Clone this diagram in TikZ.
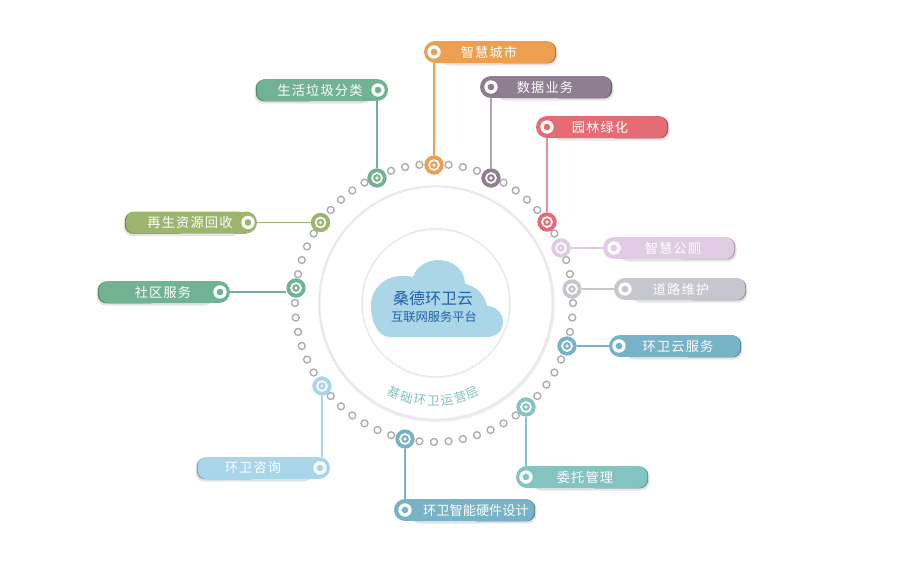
\documentclass[tikz,border=0pt]{standalone}
\usepackage{fontspec}
\setmainfont{Noto Sans CJK SC}
\newfontfamily\spaced[LetterSpace=9]{Noto Sans CJK SC}
\usetikzlibrary{calc}
\definecolor{cOrange}{HTML}{EB9F4F}
\definecolor{cPurple}{HTML}{8F7D92}
\definecolor{cRed}{HTML}{E56B74}
\definecolor{cLilac}{HTML}{DFCBE2}
\definecolor{cGrey}{HTML}{C5C6CE}
\definecolor{cBlue}{HTML}{78B2C6}
\definecolor{cTeal}{HTML}{83C3C0}
\definecolor{cSky}{HTML}{A8D5E8}
\definecolor{cGreen}{HTML}{71B391}
\definecolor{cOlive}{HTML}{9DB46F}
\definecolor{cCloud}{HTML}{ABD6E8}
\definecolor{cCloudText}{HTML}{1F62AC}
\definecolor{cDot}{HTML}{ACACAC}
\definecolor{cCircle}{HTML}{E9E9E9}
\definecolor{cArc}{HTML}{7FC3BF}
\tikzset{
  x=0.75pt,y=-0.75pt,
  pillbody/.style={inner sep=0pt,outer sep=0pt,minimum height=16.5pt,rounded corners=6.4pt,fill=#1},
  pillend/.style={circle,inner sep=0pt,outer sep=0pt,minimum size=16.5pt,fill=#1},
  pillwhite/.style={circle,inner sep=0pt,outer sep=0pt,minimum size=10pt,fill=white},
  pillring/.style={circle,inner sep=0pt,outer sep=0pt,minimum size=5pt,fill=#1},
  pilltext/.style={text=white,font=\spaced\fontsize{9.9pt}{12pt}\selectfont,inner sep=0pt},
  bigdot/.style={circle,inner sep=0pt,outer sep=0pt,minimum size=14.5pt,fill=#1},
  bigring/.style={circle,inner sep=0pt,outer sep=0pt,minimum size=7.4pt,draw=white,line width=1.3pt,fill=#1},
  bighole/.style={circle,inner sep=0pt,minimum size=2.6pt,draw=cDot!60,line width=0.5pt,fill=white},
  smalldot/.style={circle,inner sep=0pt,minimum size=5.2pt,draw=cDot,line width=1pt,fill=white},
  link/.style={line width=1.1pt,draw=#1},
  arcchar/.style={text=cArc,font=\fontsize{9.4pt}{11pt}\selectfont,inner sep=0pt}
}
% id, xL, xR, y, ring x, text x, colour, text, ring side (1 = ring on the left, -1 = on the right)
\newcommand{\pillbox}[9]{%
  \pgfmathsetmacro{\pillCx}{#9>0 ? #2+11 : #3-11}%
  \pgfmathsetmacro{\pillFx}{#9>0 ? #3 : #2}%
  \pgfmathsetmacro{\pillMx}{(\pillCx+\pillFx)/2}%
  \pgfmathsetmacro{\pillWd}{abs(\pillFx-\pillCx)*0.75}%
  \fill[black,opacity=0.10,rounded corners=6.4pt] ({\pillCx+#9*6},{#4-9}) rectangle ({\pillFx+#9*2.5},{#4+13.5});
  \fill[#7!75!black,rounded corners=6.4pt] (\pillMx,{#4-10.5}) rectangle ({\pillFx+#9*1.2},{#4+11.4});
  \node[pillbody=#7,minimum width=\pillWd pt] (#1pill) at (\pillMx,#4) {};
  \fill[#7] (\pillCx,{#4-11}) rectangle ({\pillCx+#9*12},{#4+11});
  \node[pillend=#7] (#1end) at (\pillCx,#4) {};
  \node[pillwhite] (#1white) at (#5,#4) {};
  \node[pillring=#7] (#1ring) at (#5,#4) {};
  \node[pilltext] (#1text) at (#6,#4) {#8};
}
% id, x, y, colour
\newcommand{\ringdot}[4]{%
  \node[bigdot=#4] (#1dot) at (#2,#3) {};
  \node[bigring=#4] (#1inner) at (#2,#3) {};
  \node[bighole] (#1hole) at (#2,#3) {};
}
\begin{document}
\begin{tikzpicture}
\useasboundingbox (0,0) rectangle (900,571);
\fill[white] (0,0) rectangle (900,571);

% concentric circles
\node[circle,minimum size=176pt,inner sep=0pt,draw=cCircle!70,line width=1.4pt,fill=white] (shadowring) at (436.5,304) {};
\node[circle,minimum size=175pt,inner sep=0pt,draw=cCircle,line width=1.6pt,fill=white] (outercircle) at (436,303) {};
\node[circle,minimum size=111pt,inner sep=0pt,draw=cCircle,line width=1.1pt,fill=white] (innercircle) at (436,303) {};

% cloud
\fill[cCloud] (390,337) .. controls (378,337) and (371,322) .. (371,306)
  .. controls (371,288) and (385,276) .. (402,276)
  .. controls (406,276) and (410,276) .. (413,277)
  .. controls (416,267) and (427,260) .. (438,260)
  .. controls (453,260) and (465,270) .. (465,284)
  .. controls (476,286) and (485,295) .. (487,306)
  .. controls (496,306) and (503,313) .. (503,322)
  .. controls (503,331) and (496,337) .. (487,337) -- cycle;
\node[text=cCloudText,font=\fontsize{12pt}{14pt}\selectfont,inner sep=0pt] (title) at (433,298) {桑德环卫云};
\node[text=cCloudText,font=\fontsize{9.2pt}{11pt}\selectfont,inner sep=0pt] (subtitle) at (434,317) {互联网服务平台};

% curved label
\foreach \c [count=\i from -3] in {基,础,环,卫,运,营,层}{
  \pgfmathsetmacro{\ang}{\i*7.9}
  \node[arcchar,rotate=\ang] (arc\i) at ({433.5+98*sin(\ang)},{303+98*cos(\ang)}) {\c};
}

% small dots of the ring
\foreach \a in {0,12,18,30,42,48,54,60,72,78,84,96,102,108,120,126,132,138,150,156,162,168,180,186,192,198,204,210,222,228,234,240,246,252,264,270,276,282,288,294,300,306,318,324,330,336,348,354}{
  \node[smalldot] (d\a) at ({434+139*cos(\a)},{303-139*sin(\a)}) {};
}

% ring dots
\ringdot{a}{434}{165}{cOrange}
\ringdot{b}{491}{178}{cPurple}
\ringdot{c}{547}{222}{cRed}
\ringdot{d}{561}{248}{cLilac}
\ringdot{e}{572}{289}{cGrey}
\ringdot{f}{567}{346}{cBlue}
\ringdot{g}{526}{407}{cTeal}
\ringdot{h}{405}{439}{cBlue}
\ringdot{i}{322}{386}{cSky}
\ringdot{j}{296}{288}{cGreen}
\ringdot{k}{320.5}{222.5}{cOlive}
\ringdot{l}{377}{178}{cGreen}

% pills
\pillbox{a}{424}{555}{52}{434}{489}{cOrange}{智慧城市}{1}
\pillbox{b}{480}{611}{87}{491}{545}{cPurple}{数据业务}{1}
\pillbox{c}{536}{667}{127}{547}{600}{cRed}{园林绿化}{1}
\pillbox{d}{603}{734}{248}{614}{673}{cLilac}{智慧公厕}{1}
\pillbox{e}{614}{745}{289}{625}{681}{cGrey}{道路维护}{1}
\pillbox{f}{609}{740}{346}{619}{678}{cBlue}{环卫云服务}{1}
\pillbox{g}{516}{647}{477}{526}{585}{cTeal}{委托管理}{1}
\pillbox{h}{394}{534}{510}{405}{476}{cBlue}{{\normalfont\fontsize{9.9pt}{12pt}\selectfont 环卫智能硬件设计}}{1}
\pillbox{i}{198}{330}{468}{320}{253}{cSky}{环卫咨询}{-1}
\pillbox{j}{99}{230}{292}{220}{163}{cGreen}{社区服务}{-1}
\pillbox{k}{126}{257}{222.5}{248}{190}{cOlive}{再生资源回收}{-1}
\pillbox{l}{257}{388}{90}{378}{320}{cGreen}{生活垃圾分类}{-1}

% connectors
\draw[link=cOrange] (adot |- aend.south) -- (adot);
\draw[link=cPurple!70] (bdot |- bend.south) -- (bdot);
\draw[link=cRed!75] (cdot |- cend.south) -- (cdot);
\draw[link=cLilac] (ddot) -- (dend.west);
\draw[link=cGrey] (edot) -- (eend.west);
\draw[link=cBlue] (fdot) -- (fend.west);
\draw[link=cTeal] (gdot) -- (gdot |- gend.north);
\draw[link=cBlue] (hdot) -- (hdot |- hend.north);
\draw[link=cSky] (idot) -- (idot |- iend.north);
\draw[link=cGreen] (jend.east) -- (jdot.west |- jend.east);
\draw[link=cOlive] (kend.east) -- (kdot);
\draw[link=cGreen] (ldot |- lend.south) -- (ldot);
\end{tikzpicture}
\end{document}
